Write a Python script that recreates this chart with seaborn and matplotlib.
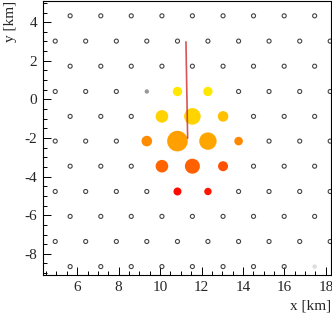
import numpy as np
import pandas as pd
import matplotlib
matplotlib.use("Agg")
import matplotlib.pyplot as plt
import seaborn as sns
from matplotlib.ticker import MultipleLocator

sns.set_style("white")
plt.rcParams['font.family'] = ['Liberation Serif', 'DejaVu Serif']
plt.rcParams['axes.unicode_minus'] = False

# station grid (km): row heights and x positions of the two staggered row types
row_y = [4.33, 3.02, 1.72, 0.41, -0.88, -2.16, -3.46, -4.77, -6.06, -7.36, -8.66]
row_x_a = [5.66, 7.14, 8.61, 10.09, 11.56, 13.04, 14.51, 15.99, 17.46]
row_x_b = [4.94, 6.41, 7.89, 9.36, 10.84, 12.31, 13.79, 15.26, 16.74, 18.21]

# stations with signal
hit_x = [10.84, 12.31, 10.09, 11.56, 13.04, 9.36, 10.84, 12.31, 13.79,
         10.09, 11.56, 13.04, 10.84, 12.31]
hit_y = [0.41, 0.41, -0.88, -0.88, -0.88, -2.16, -2.16, -2.16, -2.16,
         -3.46, -3.46, -3.46, -4.77, -4.77]
hit_r = [4.7, 4.7, 6.3, 8.3, 5.3, 5.3, 10.3, 8.7, 4.3, 6.3, 7.5, 5.0, 4.0, 3.7]
hit_col = ['#ffe800', '#ffe800', '#ffd200', '#ffd400', '#ffc000',
           '#ff8c00', '#ffa000', '#ffa500', '#ff8800',
           '#ff6400', '#ff6000', '#ff5000', '#ff0a00', '#ff1500']

# stations without a usable signal (filled grey)
grey_x = [9.36, 17.46]
grey_y = [0.41, -8.66]
grey_col = ['#999999', '#dddddd']

# shower axis projection
axis_x = [11.25, 11.33]
axis_y = [2.98, -2.01]

# build the grid of empty stations
sx, sy = [], []
for i, y in enumerate(row_y):
    for x in (row_x_a if i % 2 == 0 else row_x_b):
        used = any(abs(x - hx) < 0.1 and abs(y - hy) < 0.1
                   for hx, hy in zip(hit_x + grey_x, hit_y + grey_y))
        if not used:
            sx.append(x)
            sy.append(y)
empty = pd.DataFrame({'x': sx, 'y': sy})

hits = pd.DataFrame({'x': hit_x, 'y': hit_y, 'id': range(len(hit_x))})
px2pt = 0.72
hit_s = {i: (2 * r * px2pt) ** 2 for i, r in enumerate(hit_r)}
hit_pal = {i: c for i, c in enumerate(hit_col)}

fig = plt.figure(figsize=(3.32, 3.18), dpi=100)
ax = fig.add_axes([0.1295, 0.135, 0.8675, 0.862])

sns.scatterplot(data=empty, x='x', y='y', ax=ax, s=8.5, marker='o',
                facecolor='none', edgecolor='#444444', linewidth=0.8, legend=False)
sns.scatterplot(x=grey_x, y=grey_y, hue=grey_col, palette=dict(zip(grey_col, grey_col)),
                ax=ax, s=(2 * 2.2 * px2pt) ** 2, linewidth=0, legend=False)
sns.scatterplot(data=hits, x='x', y='y', hue='id', palette=hit_pal, size='id',
                sizes=hit_s, ax=ax, linewidth=0, legend=False)
ax.plot(axis_x, axis_y, color='#cc2a2a', lw=1.2, alpha=0.8)

ax.set_xlim(4.35, 18.25)
ax.set_ylim(-9.1, 5.1)

ax.xaxis.set_major_locator(MultipleLocator(2))
ax.xaxis.set_minor_locator(MultipleLocator(0.5))
ax.yaxis.set_major_locator(MultipleLocator(2))
ax.yaxis.set_minor_locator(MultipleLocator(0.5))
ax.tick_params(which='both', direction='in', top=False, right=False,
               bottom=True, left=True, color='black', width=0.7, labelsize=11)
ax.tick_params(which='major', length=5.8, pad=4)
ax.tick_params(which='minor', length=2.9)
for sp in ax.spines.values():
    sp.set_color('black')
    sp.set_linewidth(0.8)

ax.set_xlabel('x [km]', fontsize=11, loc='right')
ax.set_ylabel('y [km]', fontsize=11, loc='top')
ax.xaxis.set_label_coords(1.0, -0.088)
ax.yaxis.set_label_coords(-0.09, 1.0)

fig.savefig('out.png', dpi=100)
